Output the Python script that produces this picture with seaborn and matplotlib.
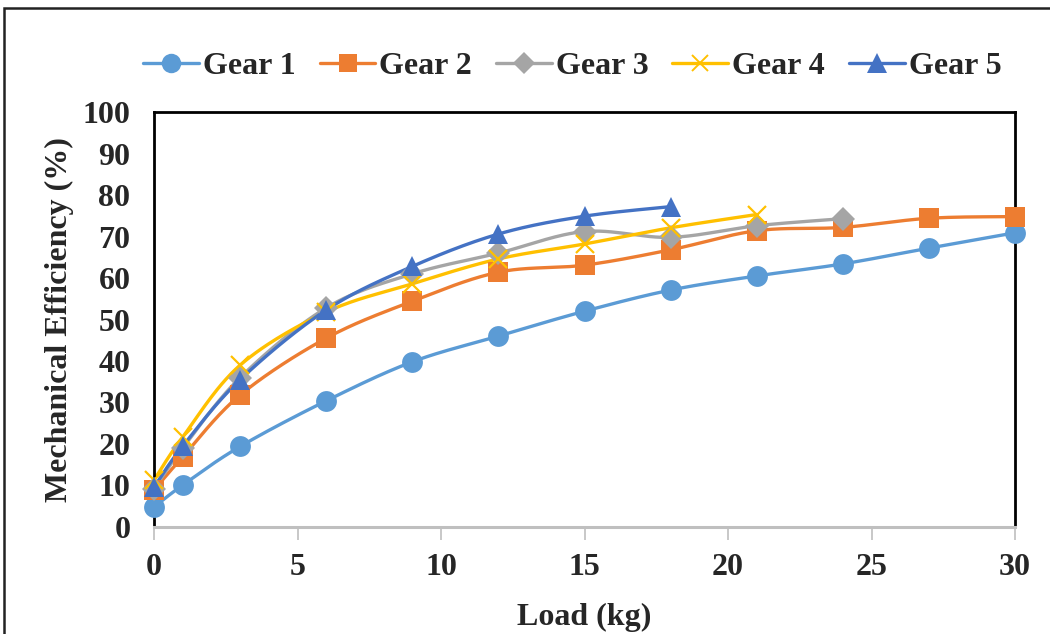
import numpy as np
import matplotlib
matplotlib.use("Agg")
import matplotlib.pyplot as plt
from matplotlib.lines import Line2D
from matplotlib.patches import Rectangle
import seaborn as sns

# Load steps (kg) and mechanical efficiency (%) for each gear
load = [0, 1, 3, 6, 9, 12, 15, 18, 21, 24, 27, 30]
gear1 = [4.8, 10.1, 19.4, 30.4, 39.8, 46.0, 52.0, 57.1, 60.5, 63.4, 67.2, 70.9]
gear2 = [8.9, 16.9, 31.8, 45.5, 54.4, 61.4, 63.1, 66.8, 71.4, 72.2, 74.4, 74.8]
gear3 = [9.2, 19.0, 36.0, 52.8, 61.0, 66.0, 71.2, 69.8, 72.6, 74.3]
gear4 = [11.3, 21.7, 39.0, 51.8, 58.6, 64.6, 68.2, 72.1, 75.3]
gear5 = [9.6, 19.5, 35.5, 52.3, 62.8, 70.6, 74.9, 77.2]

series_names = ["Gear 1", "Gear 2", "Gear 3", "Gear 4", "Gear 5"]
series_values = [gear1, gear2, gear3, gear4, gear5]
colors = ["#5B9BD5", "#ED7D31", "#A5A5A5", "#FFC000", "#4472C4"]
markers = ["o", "s", "D", "x", "^"]
marker_sizes = [15, 14, 12, 13, 15]

x_ticks = [0, 5, 10, 15, 20, 25, 30]
y_ticks = list(range(0, 101, 10))


def smooth_curve(xs, ys, sx=28.7, sy=4.15, n=30):
    """Bezier smoothing through every point (Catmull-Rom style control points)."""
    P = np.column_stack([np.asarray(xs, float) * sx, np.asarray(ys, float) * sy])
    out = [P[0]]
    for i in range(len(P) - 1):
        p0 = P[i - 1] if i > 0 else P[i]
        p1, p2 = P[i], P[i + 1]
        p3 = P[i + 2] if i + 2 < len(P) else P[i + 1]
        c1 = p1 + (p2 - p0) / 6.0
        c2 = p2 - (p3 - p1) / 6.0
        t = np.linspace(0, 1, n)[1:, None]
        seg = ((1 - t) ** 3) * p1 + 3 * ((1 - t) ** 2) * t * c1 + 3 * (1 - t) * t ** 2 * c2 + t ** 3 * p2
        out.extend(seg)
    out = np.array(out)
    return out[:, 0] / sx, out[:, 1] / sy


sns.set_theme(style="white")
plt.rcParams["font.family"] = ["Liberation Serif", "DejaVu Serif"]
plt.rcParams["font.weight"] = "bold"

fig = plt.figure(figsize=(10.5, 6.34), dpi=100)
ax = fig.add_axes([0.1467, 0.1688, 0.82, 0.6545])

for name, vals, c, m, ms in zip(series_names, series_values, colors, markers, marker_sizes):
    xs = load[:len(vals)]
    sx_, sy_ = smooth_curve(xs, vals)
    sns.lineplot(x=sx_, y=sy_, ax=ax, color=c, linewidth=2.4, sort=False,
                 estimator=None, legend=False, zorder=2)
    if m == "x":
        ax.plot(xs, vals, linestyle="none", marker=m, markersize=ms, color=c,
                markeredgewidth=1.6, zorder=3, clip_on=False)
    else:
        ax.plot(xs, vals, linestyle="none", marker=m, markersize=ms, color=c,
                markeredgewidth=0, zorder=3, clip_on=False)

ax.set_xlim(0, 30)
ax.set_ylim(0, 100)
ax.set_xticks(x_ticks)
ax.set_yticks(y_ticks)
ax.set_xticklabels([str(v) for v in x_ticks], fontsize=23, fontweight="bold")
ax.set_yticklabels([str(v) for v in y_ticks], fontsize=23, fontweight="bold")
ax.tick_params(axis="x", direction="out", length=9, width=1.2, color="#BFBFBF",
               pad=10, bottom=True)
ax.tick_params(axis="y", length=0, pad=17)

for side in ["top", "left", "right"]:
    ax.spines[side].set_color("black")
    ax.spines[side].set_linewidth(2)
ax.spines["bottom"].set_color("#BFBFBF")
ax.spines["bottom"].set_linewidth(2.2)

ax.set_xlabel("Load (kg)", fontsize=23, fontweight="bold", labelpad=15)
ax.set_ylabel("Mechanical Efficiency (%)", fontsize=23, fontweight="bold", labelpad=6)

handles = []
for name, c, m, ms in zip(series_names, colors, markers, marker_sizes):
    if m == "x":
        h = Line2D([], [], color=c, linewidth=2.4, marker=m, markersize=ms - 1,
                   markeredgewidth=1.4, label=name)
    else:
        h = Line2D([], [], color=c, linewidth=2.4, marker=m, markersize=ms - 1,
                   markeredgewidth=0, label=name)
    handles.append(h)
fig.legend(handles=handles, loc="center", bbox_to_anchor=(0.545, 0.895), ncol=5,
           frameon=False, prop={"size": 23, "weight": "bold"}, handlelength=1.75,
           handletextpad=0.12, columnspacing=0.75)

# Outer chart border
fig.patches.append(Rectangle((4 / 1050, -0.05), 1.2, 1 - 8 / 634 + 0.05,
                             transform=fig.transFigure, fill=False,
                             edgecolor="#222222", linewidth=1.8))

fig.savefig("out.png", dpi=100)
